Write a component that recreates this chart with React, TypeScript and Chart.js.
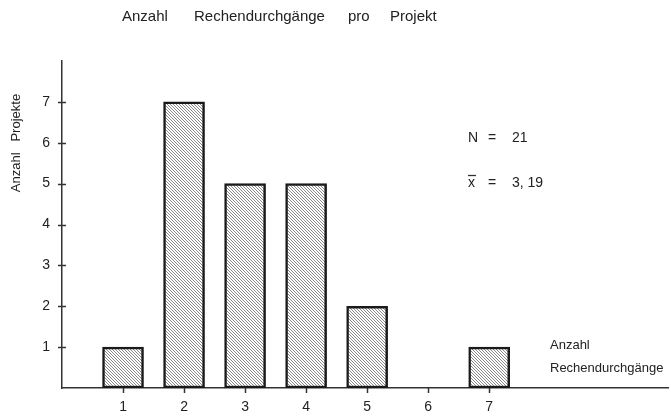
import React, { useEffect, useRef } from "react";
import { Chart, registerables } from "chart.js";

Chart.register(...registerables);

const categories = [1, 2, 3, 4, 5, 6, 7];
const projectCounts = [1, 7, 5, 5, 2, 0, 1];
const yTicks = [1, 2, 3, 4, 5, 6, 7];
const titleWords = ["Anzahl", "Rechendurchgänge", "pro", "Projekt"];
const yAxisTitle = ["Anzahl", "Projekte"];
const xAxisTitle = ["Anzahl", "Rechendurchgänge"];
const statsN = "21";
const statsMean = "3, 19";

const FONT = '"Liberation Sans", Arial, sans-serif';
const INK = "#222";

function makePattern(): CanvasPattern | string {
  const s = 3;
  const c = document.createElement("canvas");
  c.width = s;
  c.height = s;
  const g = c.getContext("2d");
  if (!g) return "#bbb";
  g.fillStyle = "#fff";
  g.fillRect(0, 0, s, s);
  g.strokeStyle = "#7c7c7c";
  g.lineWidth = 0.9;
  for (let k = -1; k <= 1; k++) {
    g.beginPath();
    g.moveTo(-1 + k * s, -1);
    g.lineTo(s + 1 + k * s, s + 1);
    g.stroke();
  }
  const p = g.createPattern(c, "repeat");
  return p || "#bbb";
}

const decorPlugin = {
  id: "decor",
  afterDraw(chart: any) {
    const ctx = chart.ctx as CanvasRenderingContext2D;
    const xs = chart.scales.x;
    const ys = chart.scales.y;
    const area = chart.chartArea;
    ctx.save();
    ctx.strokeStyle = "#333";
    ctx.lineWidth = 1.5;
    yTicks.forEach((v) => {
      const py = Math.round(ys.getPixelForValue(v)) + 0.5;
      ctx.beginPath();
      ctx.moveTo(area.left - 4, py);
      ctx.lineTo(area.left + 4, py);
      ctx.stroke();
    });
    categories.forEach((v) => {
      const px = Math.round(xs.getPixelForValue(v)) + 0.5;
      ctx.beginPath();
      ctx.moveTo(px, area.bottom);
      ctx.lineTo(px, area.bottom + 5);
      ctx.stroke();
    });

    ctx.fillStyle = INK;
    ctx.textBaseline = "middle";
    ctx.textAlign = "left";
    ctx.font = `15px ${FONT}`;
    const titleX = [122, 194, 348, 390];
    titleWords.forEach((w, i) => ctx.fillText(w, titleX[i], 17));

    ctx.font = `14px ${FONT}`;
    ctx.fillText("N", 468, 138);
    ctx.fillText("=", 488, 138);
    ctx.fillText(statsN, 512, 138);
    ctx.fillText("x", 468, 183);
    ctx.fillText("=", 488, 183);
    ctx.fillText(statsMean, 512, 183);
    ctx.beginPath();
    ctx.lineWidth = 1.3;
    ctx.moveTo(468, 175.5);
    ctx.lineTo(476, 175.5);
    ctx.stroke();

    ctx.font = `13px ${FONT}`;
    ctx.fillText(xAxisTitle[0], 550, 345);
    ctx.fillText(xAxisTitle[1], 550, 368);

    ctx.translate(16, 143);
    ctx.rotate(-Math.PI / 2);
    ctx.textAlign = "center";
    ctx.font = `13px ${FONT}`;
    ctx.fillText(yAxisTitle.join("   "), 0, 0);
    ctx.restore();
  },
};

export default function App() {
  const ref = useRef<HTMLCanvasElement>(null);
  useEffect(() => {
    if (!ref.current) return;
    const pattern = makePattern();
    const chart = new Chart(ref.current, {
      type: "bar",
      data: {
        datasets: [
          {
            data: categories.map((c, i) => ({ x: c, y: projectCounts[i] })),
            backgroundColor: pattern as any,
            borderColor: "#1a1a1a",
            borderWidth: 2.5,
            borderSkipped: false,
            barThickness: 41,
          },
        ],
      },
      options: {
        animation: false,
        responsive: false,
        maintainAspectRatio: false,
        layout: { padding: { top: 61, right: 3, left: 0, bottom: 0 } },
        plugins: { legend: { display: false }, tooltip: { enabled: false }, title: { display: false } },
        scales: {
          x: {
            type: "linear",
            offset: false,
            min: 0,
            max: 9.93,
            grid: { display: false, drawTicks: false, offset: false },
            border: { display: true, color: "#333", width: 1.5 },
            afterBuildTicks: (s: any) => {
              s.ticks = categories.map((v) => ({ value: v }));
            },
            afterFit: (s: any) => {
              s.height = 28;
            },
            ticks: {
              padding: 11,
              color: INK,
              font: { family: FONT, size: 14 },
              autoSkip: false,
              maxRotation: 0,
              callback: (v: any) => String(v),
            },
          },
          y: {
            min: 0,
            max: 8,
            grid: { display: false, drawTicks: false },
            border: { display: true, color: "#333", width: 1.5 },
            afterBuildTicks: (s: any) => {
              s.ticks = yTicks.map((v) => ({ value: v }));
            },
            afterFit: (s: any) => {
              s.width = 62;
            },
            ticks: {
              padding: 12,
              color: INK,
              font: { family: FONT, size: 14 },
              callback: (v: any) => String(v),
            },
          },
        },
      },
      plugins: [decorPlugin],
    });
    return () => chart.destroy();
  }, []);
  return (
    <div style={{ position: "fixed", left: 0, top: 0, width: 671, height: 416, background: "#fff" }}>
      <canvas ref={ref} width={671} height={416} style={{ width: 671, height: 416, display: "block" }} />
    </div>
  );
}
